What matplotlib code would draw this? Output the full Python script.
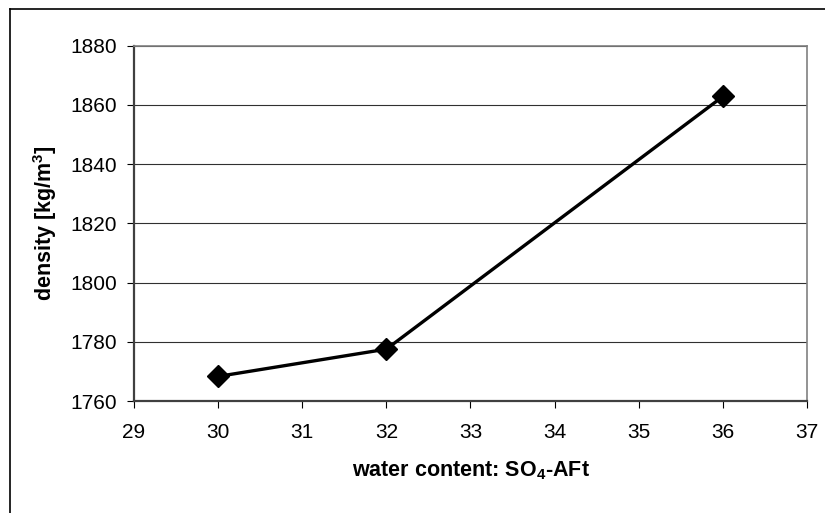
import matplotlib.pyplot as plt
from matplotlib.lines import Line2D

# data
water_content = [30, 32, 36]
density = [1768.3, 1777.5, 1862.8]
x_ticks = [29, 30, 31, 32, 33, 34, 35, 36, 37]
y_ticks = [1760, 1780, 1800, 1820, 1840, 1860, 1880]

plt.rcParams['font.family'] = ['Liberation Sans', 'DejaVu Sans']
plt.rcParams['mathtext.default'] = 'regular'

fig = plt.figure(figsize=(8.25, 5.13), dpi=100)
ax = fig.add_axes([0.1624, 0.2183, 0.8158, 0.6930])

ax.plot(water_content, density, color='black', linewidth=2.4,
        marker='D', markersize=11, markerfacecolor='black', markeredgecolor='black')

ax.set_xlim(29, 37)
ax.set_ylim(1760, 1880)
ax.set_xticks(x_ticks)
ax.set_yticks(y_ticks)
ax.yaxis.grid(True, color='#303030', linewidth=0.8)
ax.set_axisbelow(True)

ax.spines['left'].set_color('#404040')
ax.spines['bottom'].set_color('#404040')
ax.spines['left'].set_linewidth(1.6)
ax.spines['bottom'].set_linewidth(1.6)
ax.spines['top'].set_color('#808080')
ax.spines['right'].set_color('#808080')
ax.spines['top'].set_linewidth(1.2)
ax.spines['right'].set_linewidth(1.2)

ax.tick_params(axis='both', direction='out', length=5, width=0.8, color='black', labelsize=15)
ax.tick_params(axis='x', pad=11)
ax.tick_params(axis='y', pad=7)

ax.set_xlabel('water content: SO$_4$-AFt', fontsize=15.5, fontweight='bold', labelpad=12)
ax.set_ylabel('density [kg/m$^3$]', fontsize=15.5, fontweight='bold', labelpad=8)

# outer frame (only left and top edges visible)
fig.add_artist(Line2D([0.0121, 0.0121], [0, 0.9825], color='black', linewidth=1.2))
fig.add_artist(Line2D([0.0121, 1.0], [0.9825, 0.9825], color='black', linewidth=1.2))

fig.savefig('out.png', dpi=100)
